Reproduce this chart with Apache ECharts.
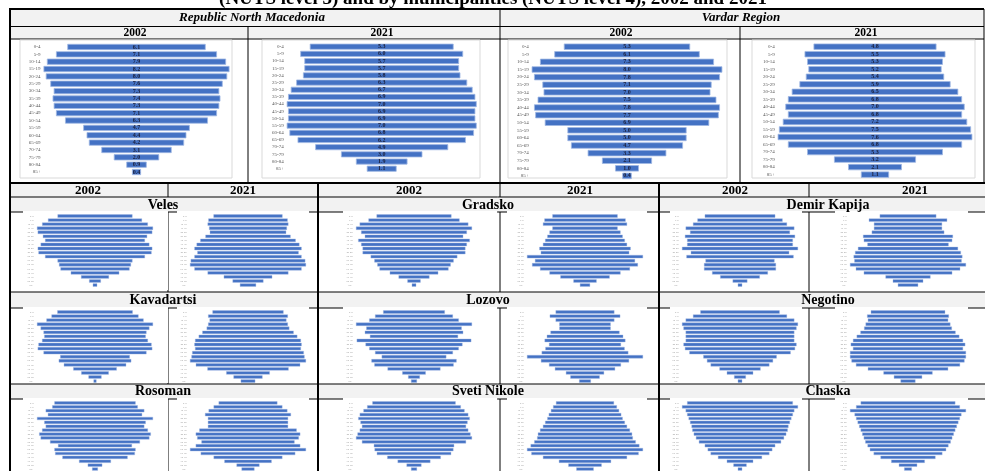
<!DOCTYPE html>
<html><head><meta charset="utf-8">
<script src="https://cdn.jsdelivr.net/npm/echarts@6/dist/echarts.min.js"></script>
<style>html,body{margin:0;padding:0;background:#fff;}#c{width:985px;height:471px;}</style>
</head><body><div id="c"></div>
<script>
// ---------------- DATA ----------------
const ageGroups = ['0-4','5-9','10-14','15-19','20-24','25-29','30-34','35-39','40-44','45-49','50-54','55-59','60-64','65-69','70-74','75-79','80-84','85+'];
const rnm2002 = [6.1,7.1,7.9,8.2,8.0,7.6,7.3,7.4,7.3,7.1,6.3,4.7,4.4,4.2,3.1,2.0,0.9,0.4];
const rnm2021 = [5.3,6.0,5.7,5.7,5.8,6.3,6.7,6.9,7.0,6.9,6.9,7.0,6.8,6.2,4.9,3.0,1.9,1.1];
const vardar2002 = [5.3,6.1,7.3,8.0,7.8,7.1,7.0,7.5,7.8,7.7,6.9,5.0,5.0,4.7,3.3,2.1,1.0,0.4];
const vardar2021 = [4.8,5.5,5.3,5.2,5.4,5.9,6.5,6.8,7.0,6.8,7.2,7.5,7.6,6.8,5.3,3.2,2.1,1.1];
const veles2002 = [5.1,6.4,7.2,7.9,7.8,7.1,6.8,7.4,7.8,7.7,6.8,5.1,4.9,4.7,3.3,1.9,0.8,0.3];
const veles2021 = [4.7,5.4,5.5,5.3,5.2,5.8,6.5,7.0,7.3,6.9,7.3,7.8,7.9,7.3,5.5,3.3,2.1,1.1];
const gradsko2002 = [5.1,6.2,7.4,7.9,7.2,6.7,7.6,7.2,7.0,7.0,5.9,5.4,5.0,4.7,3.3,2.1,0.9,0.3];
const gradsko2021 = [4.5,5.6,5.8,4.5,4.9,5.2,5.5,5.8,6.3,6.1,8.0,6.9,7.3,6.2,4.9,3.4,1.6,0.7];
const demirKapija2002 = [4.8,5.8,6.4,7.4,6.8,7.5,7.2,7.2,7.9,6.7,7.3,4.7,4.9,4.9,3.8,2.7,1.0,0.3];
const demirKapija2021 = [3.9,5.4,4.7,4.7,5.0,6.2,6.1,5.6,6.9,7.3,7.5,7.4,8.0,7.2,6.1,3.1,2.1,1.4];
const kavadartsi2002 = [5.2,6.0,6.7,8.0,7.5,7.1,7.0,7.3,7.8,7.9,7.1,4.8,5.0,4.3,3.0,1.9,0.9,0.2];
const kavadartsi2021 = [4.9,5.5,5.3,5.5,5.7,6.3,6.8,7.3,7.4,7.3,7.7,7.8,8.0,7.2,5.6,3.0,2.0,1.0];
const lozovo2002 = [4.2,5.3,6.1,7.9,6.5,6.7,6.0,7.8,6.6,6.1,5.3,4.4,5.8,5.4,3.6,1.6,0.8,0.4];
const lozovo2021 = [4.0,4.8,4.0,3.5,3.5,4.7,5.2,5.5,4.9,5.4,5.9,7.9,6.0,4.9,4.1,2.6,2.0,0.8];
const negotino2002 = [5.4,6.4,7.4,7.9,7.7,7.4,7.4,7.4,7.7,7.5,6.9,5.0,4.5,4.0,2.8,1.8,0.8,0.3];
const negotino2021 = [5.0,5.5,5.4,5.7,5.9,6.4,6.9,7.4,7.7,7.4,7.8,7.8,7.6,7.0,5.4,3.3,1.9,1.0];
const rosoman2002 = [5.6,5.9,6.8,6.5,8.0,7.0,6.8,7.3,7.7,7.5,6.2,5.1,5.6,5.5,4.5,2.2,1.0,0.4];
const rosoman2021 = [4.1,4.8,5.5,6.0,5.6,5.6,5.6,6.8,7.3,7.1,6.5,7.3,8.1,6.6,4.8,3.3,1.6,0.9];
const svetiNikole2002 = [5.6,6.3,6.8,7.3,7.5,7.2,7.0,7.3,7.6,7.8,7.0,5.4,5.3,5.0,3.6,2.2,1.0,0.4];
const svetiNikole2021 = [4.0,4.4,4.7,5.0,5.2,5.5,5.8,6.2,6.5,6.6,7.0,7.5,8.0,7.4,5.8,3.6,2.3,1.2];
const chaska2002 = [7.2,7.9,7.4,7.2,7.0,6.8,6.6,6.5,6.3,6.0,5.6,4.8,4.4,4.0,3.0,1.8,0.9,0.3];
const chaska2021 = [6.2,6.8,7.6,7.0,6.8,6.6,6.4,6.2,6.0,5.8,5.6,5.3,5.0,4.5,3.6,2.2,1.2,0.5];

const titleText = '(NUTS level 3) and by municipalities (NUTS level 4), 2002 and 2021';
const regionNames = ['Republic North Macedonia','Vardar Region'];
const yearLabels = ['2002','2021'];
const municipalityNames = ['Veles','Gradsko','Demir Kapija','Kavadartsi','Lozovo','Negotino','Rosoman','Sveti Nikole','Chaska'];
const municipalityData = [
  [veles2002, veles2021],[gradsko2002, gradsko2021],[demirKapija2002, demirKapija2021],
  [kavadartsi2002, kavadartsi2021],[lozovo2002, lozovo2021],[negotino2002, negotino2021],
  [rosoman2002, rosoman2021],[svetiNikole2002, svetiNikole2021],[chaska2002, chaska2021]
];

// ---------------- LAYOUT ----------------
const SERIF = '"Liberation Serif","Times New Roman",serif';
const BAR = '#4472C4';
const panels = [
  {values: rnm2002, cx:136.5, w:186, top:43.3, h:132.4, big:true},
  {values: rnm2021, cx:381.7, w:190, top:43.1, h:129.2, big:true},
  {values: vardar2002, cx:627, w:190.7, top:42.9, h:136.8, big:true},
  {values: vardar2021, cx:875, w:194.7, top:42.9, h:135.5, big:true}
];
const colCenters = [95, 248, 414, 585, 740, 908];
const rowTops = [214, 310, 401];
municipalityData.forEach((pair, i) => {
  const r = Math.floor(i / 3), g = i % 3;
  pair.forEach((vals, k) => {
    panels.push({values: vals, cx: colCenters[g*2+k], w:116, top: rowTops[r], h: 73.1, big:false});
  });
});

const grid = [], xAxis = [], yAxis = [], series = [];
panels.forEach((p, i) => {
  const vmax = Math.max(...p.values);
  grid.push({left: p.cx - p.w/2, top: p.top, width: p.w, height: p.h, containLabel:false});
  xAxis.push({gridIndex:i, type:'value', min:0, max:vmax, show:false});
  yAxis.push({gridIndex:i, type:'category', data: ageGroups, inverse:true,
    axisLine:{show:false}, axisTick:{show:false}, splitLine:{show:false},
    axisLabel:{interval:0, fontSize: p.big ? 5 : 2.6, color: p.big ? '#595959' : '#9a9a9a',
      fontFamily: SERIF, margin: p.big ? 3 : 3.5}});
  series.push({type:'bar', xAxisIndex:i, yAxisIndex:i, stack:'s'+i, silent:true,
    barCategoryGap: p.big ? '16%' : '20%',
    itemStyle:{color:'rgba(0,0,0,0)'},
    data: p.values.map(v => (vmax - v) / 2)});
  series.push({type:'bar', xAxisIndex:i, yAxisIndex:i, stack:'s'+i, silent:true,
    barCategoryGap: p.big ? '16%' : '20%',
    itemStyle:{color: BAR, borderColor:'#9fb7e3', borderWidth: p.big ? 0.8 : 0.4},
    label:{show: p.big, position:'inside', fontSize:6, fontWeight:'bold', fontFamily: SERIF,
      color:'#1b1f3a', formatter: q => q.value.toFixed(1)},
    data: p.values});
});

// ---------------- TABLE GRAPHICS ----------------
const G = [];
function rect(x,y,w,h,fill,z,stroke){G.push({type:'rect', z:z, shape:{x,y,width:w,height:h}, style:{fill, stroke: stroke||null, lineWidth: stroke?1:0}, silent:true});}
function line(x1,y1,x2,y2,lw){G.push({type:'line', z:-2, shape:{x1,y1,x2,y2}, style:{stroke:'#000', lineWidth:lw||1}, silent:true});}
function text(x,y,s,font){G.push({type:'text', z:10, x, y, style:{text:s, font, fill:'#000', align:'center', verticalAlign:'middle', textAlign:'center', textVerticalAlign:'middle'}, silent:true});}

// backgrounds
rect(10, 9, 974, 30, '#f2f2f2', -3);
rect(10, 183.5, 975, 13.5, '#f2f2f2', -3);
[[197,15],[292,16],[384,15]].forEach(r => rect(10, r[0], 975, r[1], '#f2f2f2', -3));

// top section lines
line(10, 9, 984, 9, 2);
line(10, 26.5, 984, 26.5, 1);
line(10, 39, 984, 39, 1);
line(10, 8, 10, 471, 2);
line(500, 9, 500, 183, 1);
line(248, 26.5, 248, 183, 1);
line(740, 26.5, 740, 183, 1);
line(984, 9, 984, 183, 1);
line(10, 183, 985, 183, 2);
// lower section lines
[197, 212, 292, 308, 384, 399].forEach(y => line(10, y, 985, y, 1));
line(318, 183, 318, 471, 2);
line(659, 183, 659, 471, 2);
[168, 500, 809].forEach(x => {
  line(x, 183, x, 197, 1);
  line(x, 212, x, 292, 1);
  line(x, 308, x, 384, 1);
  line(x, 399, x, 471, 1);
});

// chart image boxes (white) over cell lines
const topBoxes = [[20,40,212,138],[262,40,218,138],[508,40,219,138],[752,40,223,138]];
topBoxes.forEach(b => rect(b[0], b[1], b[2], b[3], '#ffffff', -1, '#d9d9d9'));
const boxX = [[23,145],[177,132],[343,154],[507,140],[670,132],[835,133]];
[[211,79],[307,76],[398,73]].forEach(r => boxX.forEach(b => rect(b[0], r[0], b[1], r[1], '#ffffff', -1)));

// texts
text(493, -1, titleText, 'bold 19px ' + SERIF);
text(252, 18, regionNames[0], 'italic bold 13px ' + SERIF);
text(741, 18, regionNames[1], 'italic bold 13px ' + SERIF);
[135, 382, 621, 866].forEach((x, i) => text(x, 33, yearLabels[i % 2], 'bold 11.5px ' + SERIF));
[88, 243, 409, 580, 735, 915].forEach((x, i) => text(x, 190.5, yearLabels[i % 2], 'bold 13px ' + SERIF));
const nameX = [163, 488, 828];
const nameY = [205, 300.5, 391.5];
municipalityNames.forEach((n, i) => text(nameX[i % 3], nameY[Math.floor(i / 3)], n, 'bold 14px ' + SERIF));

const chart = echarts.init(document.getElementById('c'), null, {renderer:'canvas'});
chart.setOption({animation:false, backgroundColor:'#ffffff', grid, xAxis, yAxis, series, graphic:{elements:G}});
</script></body></html>
